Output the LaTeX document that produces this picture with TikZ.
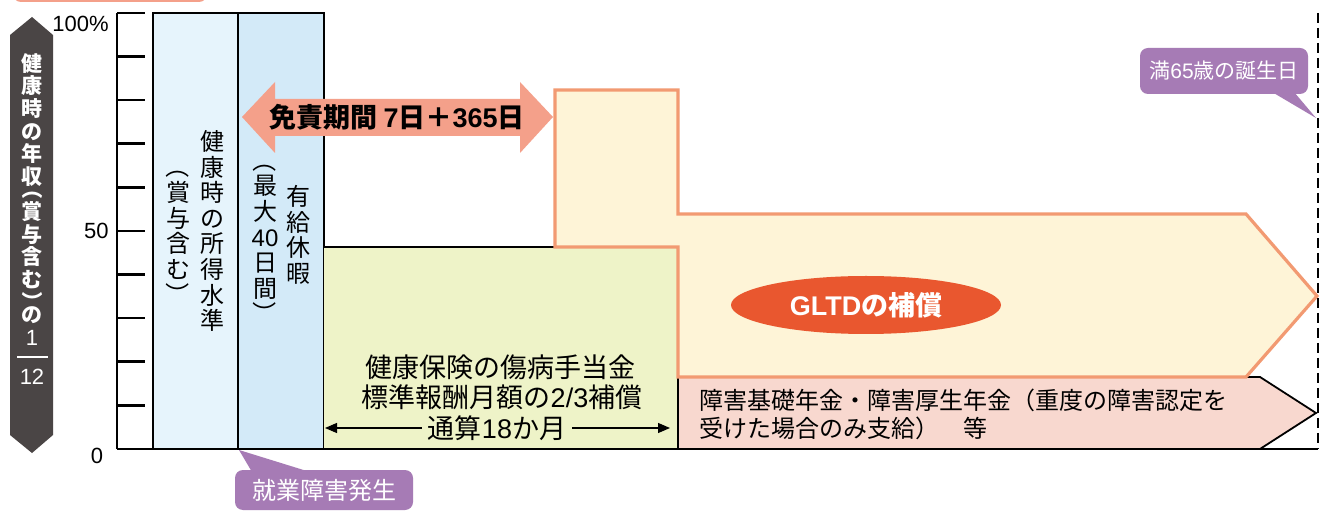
\documentclass[tikz,border=0pt]{standalone}
\usepackage{fontspec}
\setmainfont{Noto Sans CJK JP}
\newfontfamily\lat{Liberation Sans}
\usepackage{graphicx}
\usetikzlibrary{arrows.meta,shapes.geometric}
\definecolor{lbA}{HTML}{E6F4FC}
\definecolor{lbB}{HTML}{D3EAF8}
\definecolor{grn}{HTML}{EEF3C8}
\definecolor{gltdfill}{HTML}{FEF4D7}
\definecolor{gltdline}{HTML}{F29A72}
\definecolor{pnk}{HTML}{F8D8CF}
\definecolor{salm}{HTML}{F4A08A}
\definecolor{ered}{HTML}{E9572F}
\definecolor{purp}{HTML}{A67BB5}
\definecolor{darkg}{HTML}{4A4545}
\newcommand{\vpL}{\rotatebox[origin=c]{-90}{（}}
\newcommand{\vpR}{\rotatebox[origin=c]{-90}{）}}
\begin{document}
\begin{tikzpicture}[x=0.5pt,y=-0.5pt,
  colbox/.style={draw=black,line width=0.6pt},
  axisline/.style={draw=black,line width=1.3pt},
  vt/.style={align=center,inner sep=0pt,font=\fontsize{12}{12.8}\selectfont},
  axlabel/.style={inner sep=0pt,font=\fontsize{11}{13}\selectfont\lat},
  callout/.style={fill=purp,rounded corners=4pt},
  callouttext/.style={text=white,inner sep=0pt},
  grntext/.style={inner sep=0pt,font=\fontsize{13.5}{15}\selectfont},
  spanarrow/.style={draw=black,line width=0.6pt,-{Triangle[length=6pt,width=5pt]}}]
\clip (0,0) rectangle (1320,517);
\fill[white] (0,0) rectangle (1320,517);

% top partial box
\fill[salm, rounded corners=4pt] (13,-40) rectangle (207,2);

% columns
\draw[colbox, fill=lbA] (153,13) rectangle (238,449);
\draw[colbox, fill=lbB] (238,13) rectangle (324,449);

% green box
\fill[grn] (324,247) rectangle (678,449);
\draw[black,line width=1pt] (324,247) -- (555,247);

% pink box
\draw[fill=pnk, draw=black, line width=0.9pt, line join=miter]
  (678,449) -- (678,377) -- (1260,377) -- (1316,413) -- (1260,449) -- cycle;

% GLTD shape
\draw[fill=gltdfill, draw=gltdline, line width=1.6pt, line join=miter]
  (555,90) -- (678,90) -- (678,214) -- (1246,214) -- (1317,296) -- (1246,377)
  -- (678,377) -- (678,247) -- (555,247) -- cycle;

% axis
\draw[axisline] (117,13) -- (117,449);
\draw[draw=black,line width=1.1pt] (117,449) -- (1318,449);
\foreach \k in {0,...,9} \draw[axisline] (117,{13+43.6*\k}) -- (145,{13+43.6*\k});
\node[axlabel, anchor=east] (l100) at (109,24) {100\%};
\node[axlabel, anchor=east] (l50) at (109,231) {50};
\node[axlabel] (l0) at (97,456) {0};

% dashed line
\draw[black, line width=1pt, dash pattern=on 5pt off 2.5pt] (1318,13) -- (1318,449);

% double arrow
\fill[salm] (242,117) -- (275,82) -- (275,99) -- (520,99) -- (520,82) -- (553,117)
  -- (520,153) -- (520,136) -- (275,136) -- (275,153) -- cycle;
\node[inner sep=0pt, font=\fontsize{13.5}{15}\bfseries] (menseki) at (397,117)
  {免責期間 {\lat 7}日＋{\lat 365}日};

% dark vertical arrow
\fill[darkg] (32,17) -- (53,35) -- (53,435) -- (32,453) -- (10,435) -- (10,35) -- cycle;
\node[align=center, inner sep=0pt, text=white, anchor=north,
  font=\fontsize{10.5}{11.3}\selectfont\bfseries] (ylab) at (32,53)
  {健\\康\\時\\の\\年\\収\\[-5pt]\vpL\\賞\\与\\含\\む\\\vpR\\[-5pt]の};
\node[inner sep=0pt, text=white, font=\fontsize{11}{13}\selectfont\lat] (one) at (32,338) {1};
\draw[white, line width=1.2pt] (17,357) -- (48,357);
\node[inner sep=0pt, text=white, font=\fontsize{11}{13}\selectfont\lat] (twelve) at (32,377) {12};

% column texts
\node[vt] (c1a) at (212,231) {健\\康\\時\\の\\所\\得\\水\\準};
\node[vt] (c1b) at (178,231) {\vpL\\賞\\与\\含\\む\\\vpR};
\node[vt] (c2a) at (298,235) {有\\給\\休\\暇};
\node[vt] (c2b) at (265,237) {\vpL\\最\\大\\{\lat 40}\\日\\間\\\vpR};

% green text
\node[grntext] (hk1) at (500,367) {健康保険の傷病手当金};
\node[grntext] (hk2) at (502,397) {標準報酬月額の{\lat 2/3}補償};
\node[grntext] (hk3) at (497,428) {通算{\lat 18}か月};
\coordinate (gl) at (325,428);
\coordinate (gr) at (670,428);
\draw[spanarrow, shorten <=3pt] (hk3.west) -- (gl);
\draw[spanarrow, shorten <=3pt] (hk3.east) -- (gr);

% pink text
\node[anchor=west, align=left, inner sep=0pt, font=\fontsize{12}{14}\selectfont] (pk) at (699,414)
  {障害基礎年金・障害厚生年金（重度の障害認定を\\受けた場合のみ支給）　等};

% GLTD ellipse
\node[ellipse, fill=ered, minimum width=135pt, minimum height=29pt, inner sep=0pt,
  text=white, font=\fontsize{13.5}{16}\bfseries] (gltd) at (866,305) {{\lat GLTD}の補償};

% callout 65
\fill[callout] (1140,48) rectangle (1308,94);
\fill[purp] (1272,92) -- (1316,118) -- (1294,92) -- cycle;
\node[callouttext, font=\fontsize{10.5}{12}\selectfont] (age65) at (1224,71) {満{\lat 65}歳の誕生日};

% callout onset
\fill[callout] (235,470) rectangle (413,510);
\fill[purp] (252,472) -- (239,450) -- (310,472) -- cycle;
\node[callouttext, font=\fontsize{12}{14}\selectfont] (onset) at (324,490) {就業障害発生};
\end{tikzpicture}
\end{document}
